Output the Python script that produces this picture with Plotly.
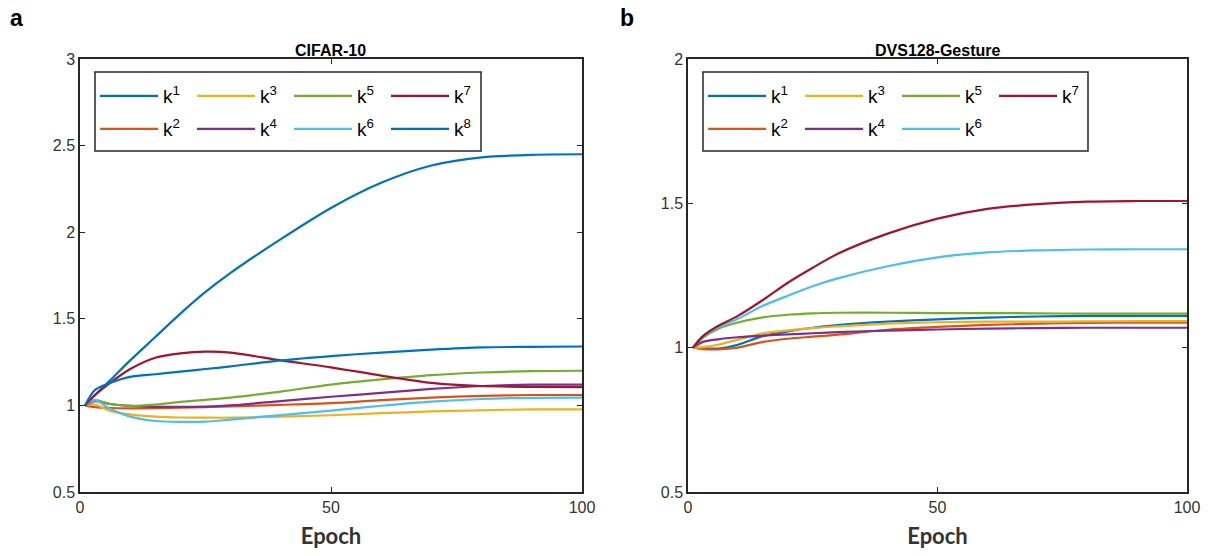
import plotly.graph_objects as go

# ---------------- data ----------------
epochs = [1, 3, 6, 10, 15, 20, 25, 30, 40, 50, 60, 70, 80, 90, 100]

cifar = {
    "k1": [1.00, 1.06, 1.145, 1.26, 1.395, 1.53, 1.655, 1.765, 1.96, 2.14, 2.285, 2.385, 2.432, 2.447, 2.45],
    "k2": [1.00, 0.99, 0.985, 0.983, 0.984, 0.987, 0.99, 0.994, 1.003, 1.013, 1.03, 1.045, 1.055, 1.06, 1.06],
    "k3": [1.00, 1.005, 0.968, 0.948, 0.935, 0.93, 0.929, 0.929, 0.935, 0.943, 0.955, 0.965, 0.972, 0.977, 0.977],
    "k4": [1.00, 1.025, 1.008, 0.997, 0.992, 0.992, 0.993, 1.00, 1.025, 1.05, 1.072, 1.095, 1.112, 1.12, 1.12],
    "k5": [1.00, 1.03, 1.008, 0.997, 1.005, 1.02, 1.032, 1.045, 1.08, 1.12, 1.15, 1.175, 1.19, 1.198, 1.20],
    "k6": [1.00, 1.03, 0.98, 0.935, 0.91, 0.905, 0.906, 0.918, 0.944, 0.97, 0.998, 1.022, 1.037, 1.044, 1.045],
    "k7": [1.00, 1.06, 1.13, 1.21, 1.275, 1.30, 1.31, 1.305, 1.26, 1.22, 1.172, 1.13, 1.112, 1.107, 1.105],
    "k8": [1.00, 1.09, 1.13, 1.165, 1.18, 1.195, 1.21, 1.225, 1.26, 1.285, 1.305, 1.322, 1.335, 1.338, 1.34],
}

dvs = {
    "k1": [1.00, 0.998, 0.997, 1.01, 1.04, 1.056, 1.069, 1.078, 1.09, 1.098, 1.104, 1.108, 1.11, 1.11, 1.11],
    "k2": [1.00, 0.995, 0.994, 1.00, 1.02, 1.031, 1.038, 1.045, 1.062, 1.072, 1.079, 1.083, 1.086, 1.087, 1.087],
    "k3": [1.00, 1.002, 1.01, 1.028, 1.05, 1.06, 1.068, 1.074, 1.083, 1.088, 1.09, 1.09, 1.091, 1.092, 1.092],
    "k4": [1.00, 1.02, 1.029, 1.036, 1.042, 1.046, 1.05, 1.054, 1.059, 1.063, 1.066, 1.068, 1.069, 1.069, 1.069],
    "k5": [1.00, 1.035, 1.065, 1.087, 1.105, 1.114, 1.119, 1.121, 1.121, 1.12, 1.12, 1.119, 1.118, 1.118, 1.118],
    "k6": [1.00, 1.04, 1.07, 1.10, 1.145, 1.18, 1.213, 1.24, 1.282, 1.313, 1.33, 1.337, 1.34, 1.341, 1.341],
    "k7": [1.00, 1.04, 1.075, 1.11, 1.165, 1.225, 1.277, 1.325, 1.395, 1.447, 1.481, 1.497, 1.506, 1.508, 1.508],
}

series_labels = {f"k{i}": f"k<sup>{i}</sup>" for i in range(1, 9)}
colors = {
    "k1": "#0072BD", "k2": "#D95319", "k3": "#EDB120", "k4": "#7E2F8E",
    "k5": "#77AC30", "k6": "#4DBEEE", "k7": "#A2142F", "k8": "#0072BD",
}

x_ticks = [0, 50, 100]
y_ticks_a = [0.5, 1, 1.5, 2, 2.5, 3]
y_ticks_b = [0.5, 1, 1.5, 2]

W, H = 1213, 556
def px_x(p): return p / W
def px_y(p): return 1 - p / H

fig = go.Figure()

row_of = {"k1": 0, "k3": 0, "k5": 0, "k7": 0, "k2": 1, "k4": 1, "k6": 1, "k8": 1}

for name, vals in cifar.items():
    fig.add_trace(go.Scatter(
        x=epochs, y=vals, mode="lines", name=series_labels[name],
        line=dict(color=colors[name], width=2.2, shape="spline", smoothing=0.8),
        xaxis="x", yaxis="y",
        legend="legend" if row_of[name] == 0 else "legend2",
        legendrank=int(name[1:]),
    ))
for name, vals in dvs.items():
    fig.add_trace(go.Scatter(
        x=epochs, y=vals, mode="lines", name=series_labels[name],
        line=dict(color=colors[name], width=2.2, shape="spline", smoothing=0.8),
        xaxis="x2", yaxis="y2",
        legend="legend3" if row_of[name] == 0 else "legend4",
        legendrank=int(name[1:]),
    ))

axis_col = "#262626"
tick_font = dict(family="Liberation Sans, Arial", size=16, color="#333333")
common_x = dict(range=[0, 100], tickvals=x_ticks, ticks="inside", ticklen=5, tickwidth=1.2,
                tickcolor=axis_col, showline=True, linecolor=axis_col, linewidth=1.5,
                mirror="ticks", showgrid=False, zeroline=False, tickfont=tick_font,
                title=dict(text="<b>Epoch</b>", font=dict(family="Lato, Carlito, Open Sans", size=22, color="#333333"),
                           standoff=14))
common_y = dict(ticks="inside", ticklen=5, tickwidth=1.2, tickcolor=axis_col,
                showline=True, linecolor=axis_col, linewidth=1.5, mirror="ticks",
                showgrid=False, zeroline=False, tickfont=tick_font)

dom_y = [px_y(492), px_y(59)]
fig.update_layout(
    width=W, height=H, margin=dict(l=0, r=0, t=0, b=0, autoexpand=False),
    paper_bgcolor="white", plot_bgcolor="white",
    xaxis=dict(domain=[px_x(80), px_x(582)], anchor="y", **common_x),
    yaxis=dict(domain=dom_y, anchor="x", range=[0.5, 3], tickvals=y_ticks_a,
               ticktext=[str(v) for v in y_ticks_a], **common_y),
    xaxis2=dict(domain=[px_x(688), px_x(1187)], anchor="y2", **common_x),
    yaxis2=dict(domain=dom_y, anchor="x2", range=[0.5, 2], tickvals=y_ticks_b,
                ticktext=[str(v) for v in y_ticks_b], **common_y),
    showlegend=True,
)

leg_common = dict(orientation="h", bgcolor="rgba(0,0,0,0)", borderwidth=0,
                  font=dict(family="Liberation Sans, Arial", size=19, color="#000000"),
                  entrywidth=24, entrywidthmode="pixels", itemwidth=58,
                  xanchor="left", yanchor="middle", traceorder="normal",
                  tracegroupgap=0, itemclick=False, itemdoubleclick=False)
fig.update_layout(
    legend=dict(x=px_x(95), y=px_y(96), **leg_common),
    legend2=dict(x=px_x(95), y=px_y(129), **leg_common),
    legend3=dict(x=px_x(703), y=px_y(96), **leg_common),
    legend4=dict(x=px_x(703), y=px_y(129), **leg_common),
)

# legend frames
for x0, x1 in [(95, 481), (703, 1088)]:
    fig.add_shape(type="rect", xref="paper", yref="paper",
                  x0=px_x(x0), x1=px_x(x1), y0=px_y(151), y1=px_y(72),
                  line=dict(color=axis_col, width=1.5), fillcolor="white", layer="above")

# titles and panel letters
ann_common = dict(xref="paper", yref="paper", showarrow=False, xanchor="center", yanchor="middle")
fig.add_annotation(text="<b>CIFAR-10</b>", x=px_x(331), y=px_y(51),
                   font=dict(family="Liberation Sans, Arial", size=16, color="#000000"), **ann_common)
fig.add_annotation(text="<b>DVS128-Gesture</b>", x=px_x(937), y=px_y(51),
                   font=dict(family="Liberation Sans, Arial", size=16, color="#000000"), **ann_common)
fig.add_annotation(text="<b>a</b>", x=px_x(16), y=px_y(18),
                   font=dict(family="Liberation Sans, Arial", size=23, color="#000000"), **ann_common)
fig.add_annotation(text="<b>b</b>", x=px_x(627), y=px_y(18),
                   font=dict(family="Liberation Sans, Arial", size=23, color="#000000"), **ann_common)

fig.write_html("out.html")
